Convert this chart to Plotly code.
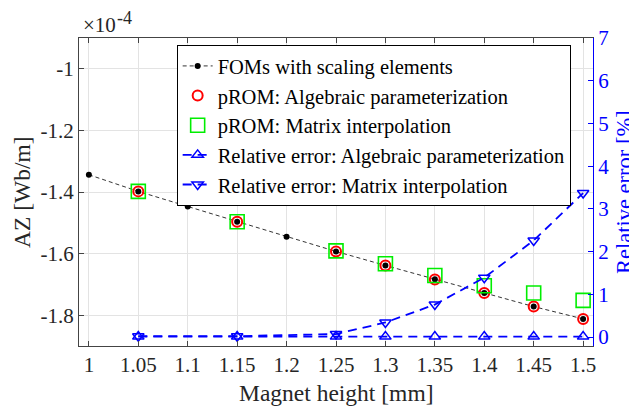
import plotly.graph_objects as go

# Magnetic vector potential AZ in units of 1e-4 Wb/m
fom_height = [1.0, 1.05, 1.1, 1.15, 1.2, 1.25, 1.3, 1.35, 1.4, 1.45, 1.5]
fom_az = [-1.344, -1.398, -1.447, -1.4965, -1.545, -1.593, -1.6385, -1.683, -1.728, -1.772, -1.812]

prom_height = [1.05, 1.15, 1.25, 1.3, 1.35, 1.4, 1.45, 1.5]
prom_alg_az = [-1.398, -1.4965, -1.593, -1.6385, -1.684, -1.728, -1.772, -1.812]
prom_mat_az = [-1.398, -1.4965, -1.591, -1.633, -1.671, -1.7045, -1.728, -1.752]

err_alg = [0.01, 0.01, 0.01, 0.01, 0.01, 0.01, 0.01, 0.01]
err_mat = [0.02, 0.02, 0.07, 0.34, 0.76, 1.39, 2.26, 3.37]

x_ticks = [1, 1.05, 1.1, 1.15, 1.2, 1.25, 1.3, 1.35, 1.4, 1.45, 1.5]
x_labels = ["1", "1.05", "1.1", "1.15", "1.2", "1.25", "1.3", "1.35", "1.4", "1.45", "1.5"]
y_ticks = [-1.8, -1.6, -1.4, -1.2, -1.0]
y_labels = ["-1.8", "-1.6", "-1.4", "-1.2", "-1"]
y2_ticks = [0, 1, 2, 3, 4, 5, 6, 7]

FONT = "Liberation Serif"
BLUE = "#0000ff"
AXIS = "#444444"
TXT = "#262626"

fig = go.Figure()

fig.add_trace(go.Scatter(
    x=fom_height, y=fom_az, mode="lines+markers",
    name="FOMs with scaling elements",
    line=dict(color="black", width=0.8, dash="4px,3px"),
    marker=dict(symbol="circle", size=6, color="black"),
))
fig.add_trace(go.Scatter(
    x=prom_height, y=prom_alg_az, mode="markers",
    name="pROM: Algebraic parameterization",
    marker=dict(symbol="circle-open", size=10, color="#ff0000", line=dict(width=2)),
))
fig.add_trace(go.Scatter(
    x=prom_height, y=prom_mat_az, mode="markers",
    name="pROM: Matrix interpolation",
    marker=dict(symbol="square-open", size=14, color="#00ee00", line=dict(width=1.6)),
))
fig.add_trace(go.Scatter(
    x=prom_height, y=err_alg, mode="lines+markers", yaxis="y2",
    name="Relative error: Algebraic parameterization",
    line=dict(color=BLUE, width=1.8, dash="9px,6px"),
    marker=dict(symbol="triangle-up-open", size=10, color=BLUE, line=dict(width=1.5)),
))
fig.add_trace(go.Scatter(
    x=prom_height, y=err_mat, mode="lines+markers", yaxis="y2",
    name="Relative error: Matrix interpolation",
    line=dict(color=BLUE, width=1.8, dash="9px,6px"),
    marker=dict(symbol="triangle-down-open", size=10, color=BLUE, line=dict(width=1.5)),
))

# page body has an 8px margin, so the figure is trimmed by 8px and margins shifted
fig.update_layout(
    width=629, height=401,
    margin=dict(l=71, r=44, t=30, b=63),
    paper_bgcolor="white", plot_bgcolor="white",
    font=dict(family=FONT, size=21, color=TXT),
    xaxis=dict(
        range=[0.99, 1.51], tickvals=x_ticks, ticktext=x_labels,
        showgrid=True, gridcolor="#e3e3e3", zeroline=False, automargin=False,
        showline=True, linecolor=AXIS, linewidth=1, mirror="ticks",
        ticks="inside", ticklen=5, tickcolor=AXIS,
        tickfont=dict(family=FONT, size=21, color=TXT),
    ),
    yaxis=dict(
        range=[-1.9, -0.9], tickvals=y_ticks, ticktext=y_labels,
        showgrid=True, gridcolor="#e3e3e3", zeroline=False, automargin=False,
        showline=True, linecolor=AXIS, linewidth=1,
        ticks="inside", ticklen=5, tickcolor=AXIS,
        tickfont=dict(family=FONT, size=21, color=TXT),
    ),
    yaxis2=dict(
        overlaying="y", side="right", range=[-0.21, 7], tickvals=y2_ticks,
        showgrid=False, zeroline=False, automargin=False,
        showline=True, linecolor=BLUE, linewidth=1,
        ticks="inside", ticklen=5, tickcolor=BLUE,
        tickfont=dict(family=FONT, size=21, color=BLUE),
    ),
    legend=dict(
        x=0.19, y=0.977, xanchor="left", yanchor="top",
        bgcolor="white", bordercolor="black", borderwidth=1,
        font=dict(family=FONT, size=20.5, color="black"),
        tracegroupgap=0, itemwidth=30,
    ),
    showlegend=True,
    annotations=[
        dict(text="\u00d710", x=0.006, y=1, xref="paper", yref="paper",
             xanchor="left", yanchor="bottom", showarrow=False, yshift=0,
             borderpad=0, font=dict(family=FONT, size=21, color=TXT)),
        dict(text="-4", x=0.072, y=1, xref="paper", yref="paper",
             xanchor="left", yanchor="bottom", showarrow=False, yshift=9,
             borderpad=0, font=dict(family=FONT, size=18, color=TXT)),
        dict(text="Magnet height [mm]", x=0.5, y=-0.153, xref="paper", yref="paper",
             xanchor="center", yanchor="middle", showarrow=False,
             font=dict(family=FONT, size=23.5, color=TXT)),
        dict(text="AZ [Wb/m]", x=-0.111, y=0.5, xref="paper", yref="paper",
             xanchor="center", yanchor="middle", showarrow=False, textangle=-90,
             font=dict(family=FONT, size=23.5, color=TXT)),
        dict(text="Relative error [%]", x=1.0603, y=0.5, xref="paper", yref="paper",
             xanchor="center", yanchor="middle", showarrow=False, textangle=-90,
             borderpad=0, font=dict(family=FONT, size=22.5, color=BLUE)),
    ],
)

fig.write_html("out.html")
